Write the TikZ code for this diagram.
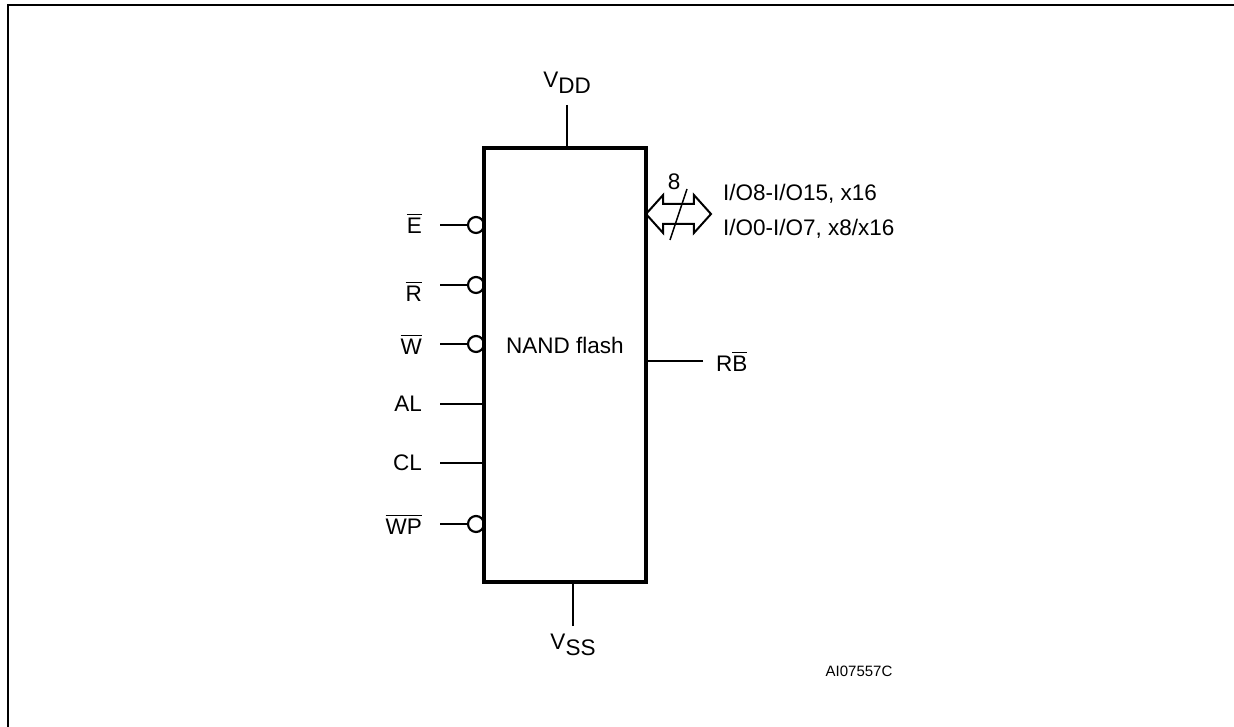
\documentclass[tikz,border=0pt]{standalone}
\usepackage{amsmath}
\usepackage{fontspec}
\setmainfont{Liberation Sans}
\usetikzlibrary{shapes.arrows}
\newcommand{\lowtext}[1]{\raisebox{-3.6pt}{#1}}
\newcommand{\barred}[1]{$\overline{\mbox{#1}}$}

\begin{document}
\begin{tikzpicture}[x=0.6pt,y=-0.6pt,line width=1.3pt,
  every node/.style={font=\fontsize{13.5}{15}\selectfont},
  chip node/.style={rectangle,draw,line width=2pt,minimum width=97.2pt,minimum height=260.4pt,inner sep=0pt},
  pin node/.style={anchor=east,inner ysep=0pt,inner xsep=10.2pt},
  inv node/.style={circle,fill=white,draw,minimum size=9.6pt,inner sep=0pt},
  bus node/.style={double arrow,draw,line width=1.2pt,minimum height=39pt,minimum width=21.6pt,
    inner xsep=0pt,inner ysep=5.4pt,double arrow head extend=5.4pt,double arrow tip angle=96},
  io node/.style={anchor=west,inner sep=0pt}]

  \useasboundingbox (0,0) rectangle (1234,727);
  \draw[line width=1.5pt] (1234,5) -- (8,5) -- (8,727);

  % control pins on the left
  \node[pin node] (e) at (440,223.5) {\barred{E}};
  \node[pin node] (r) at (440,291.5) {\barred{R}};
  \node[pin node] (w) at (440,344) {\barred{W}};
  \node[pin node] (al) at (440,404) {AL};
  \node[pin node] (cl) at (440,463) {CL};
  \node[pin node] (wp) at (440,524) {\barred{WP}};

  \node[inv node] (einv) at (476,225) {};
  \node[inv node] (rinv) at (476,285) {};
  \node[inv node] (winv) at (476,344) {};
  \node[inv node] (wpinv) at (476,524) {};

  \node[chip node] (chip) at (565,365) {};
  \node (name) at (565,345) {NAND flash};

  % supply
  \node[anchor=south,inner sep=0pt,yshift=6pt] (vdd) at (567,105) {V\lowtext{DD}};
  \node[anchor=north,inner sep=0pt] (vss) at (573,633) {V\lowtext{SS}};
  \coordinate (vddpin) at (567,105);
  \coordinate (vsspin) at (573,626);

  % data bus
  \node[bus node] (bus) at (678.5,214) {};
  \coordinate (slashtop) at (687,189);
  \coordinate (slashend) at (670,240);
  \node (width) at (674,182) {8};
  \node[io node] (iohigh) at (722,194) {I/O8-I/O15, x16};
  \node[io node] (iolow) at (722,229) {I/O0-I/O7, x8/x16};

  \coordinate (rbpin) at (703,361);
  \node[io node] (rb) at (715,361) {R\barred{B}};

  \node[font=\fontsize{9}{11}\selectfont] (code) at (859,671) {AI07557C};

  \path
    (einv -| e.east) edge (einv)
    (rinv -| r.east) edge (rinv)
    (w) edge (winv)
    (wp) edge (wpinv)
    (al) edge (al -| chip.west)
    (cl) edge (cl -| chip.west)
    (vddpin) edge (vddpin |- chip.north)
    (vsspin) edge (vsspin |- chip.south)
    (rbpin) edge (rbpin -| chip.east);

  \path[line width=0.9pt]
    (slashtop) edge (slashend);

\end{tikzpicture}
\end{document}
